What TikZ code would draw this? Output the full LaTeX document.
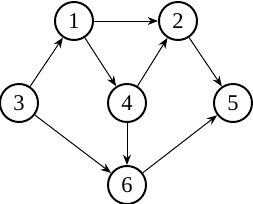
\documentclass[tikz,border=0pt]{standalone}
\usepackage{fontspec}
\setmainfont{Liberation Serif}
\usetikzlibrary{arrows.meta}

\begin{document}
\begin{tikzpicture}[
        >={Stealth[length=2.6mm, width=2mm]},
        x=0.025cm, y=-0.025cm,
        font=\fontsize{16}{18}\selectfont,
        vertex/.style={circle, draw, line width=1.4pt, minimum size=0.95cm, inner sep=0pt},
        arc/.style={->, line width=0.7pt}
    ]

        % === BOUNDING BOX ===
        \useasboundingbox (0,0) rectangle (253,204);

        % === VERTICES ===
        \node[vertex] (V1) at (74,21)  {1};
        \node[vertex] (V2) at (178,21) {2};
        \node[vertex] (V3) at (19,103) {3};
        \node[vertex] (V4) at (127,103) {4};
        \node[vertex] (V5) at (233,103) {5};
        \node[vertex] (V6) at (127,185) {6};

        % === ARCS ===
        \draw[arc] (V1) -- (V2);
        \draw[arc] (V3) -- (V1);
        \draw[arc] (V1) -- (V4);
        \draw[arc] (V4) -- (V2);
        \draw[arc] (V2) -- (V5);
        \draw[arc] (V3) -- (V6);
        \draw[arc] (V4) -- (V6);
        \draw[arc] (V6) -- (V5);

    \end{tikzpicture}
\end{document}
